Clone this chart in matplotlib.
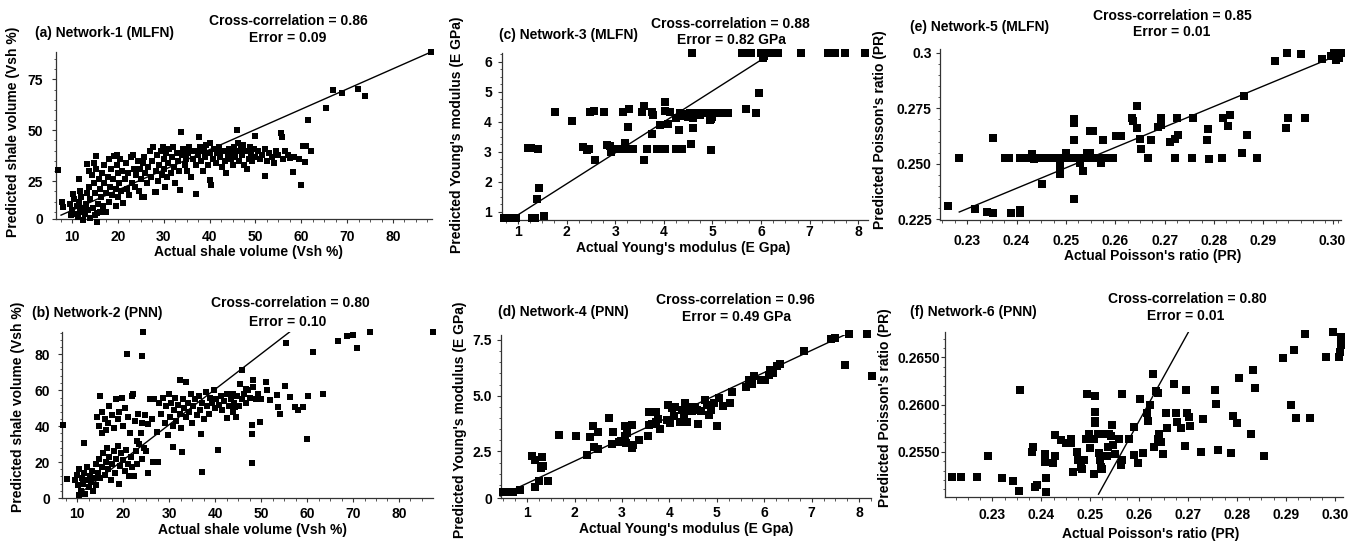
import numpy as np
import matplotlib
matplotlib.use("Agg")
import matplotlib.pyplot as plt
from matplotlib.ticker import MultipleLocator

plt.rcParams['font.family'] = ['Liberation Sans', 'DejaVu Sans']
plt.rcParams['font.weight'] = 'bold'
plt.rcParams['font.size'] = 10

# ================= data: (actual, predicted) =================
a_points = [
    (7.0, 30.7), (7.8, 14.9), (8.0, 12.5), (9.5, 14), (9.8, 8.5), (10, 11), (10.3, 18.5), (10.5, 16),
    (10.8, 9), (11, 13), (11.3, 7.5), (11.5, 15), (11.6, 26.3), (11.7, 20), (11.8, 10), (12, 17),
    (12.2, 12), (12.4, 6), (12.8, 9), (13, 14), (13.2, 19), (13.3, 33.5), (13.5, 11), (13.7, 22),
    (13.8, 30), (14, 7), (14, 16), (14.3, 28), (14.5, 12), (14.7, 24), (14.8, 34), (15, 8.5), (15, 19),
    (15.2, 31), (15.2, 37.5), (15.4, 5), (15.4, 9.2), (15.6, 14), (15.8, 26), (16, 10), (16, 21),
    (16.3, 17), (16.5, 29), (16.7, 13), (17, 24), (17, 33), (17.3, 19), (17.5, 10), (17.8, 27), (18, 15),
    (18, 36), (18.3, 22), (18.5, 31), (18.8, 18), (19, 26), (19.2, 37.5), (19.5, 13), (19.6, 21),
    (19.7, 37.7), (19.8, 33), (20, 29), (20, 17), (20.3, 24), (20.5, 36), (20.7, 20), (21, 30),
    (21.2, 14.5), (21.5, 26), (21.8, 34), (22, 21), (22.3, 29), (22.5, 18), (22.8, 37), (23, 24),
    (23.3, 38), (23.5, 31), (23.8, 22), (24, 28), (24.3, 35), (24.6, 20), (24.8, 31), (25, 26),
    (25.3, 17), (25.5, 34), (25.7, 17), (25.7, 37), (26, 29), (26.3, 24), (26.6, 32), (27, 40),
    (27.2, 27), (27.5, 35), (27.7, 41.8), (28, 19.5), (28.2, 30), (28.4, 19.8), (28.5, 38), (28.8, 25),
    (29, 33), (29.3, 40), (29.6, 28), (29.9, 41.8), (30, 36), (30, 31), (30.3, 22), (30.5, 39),
    (30.8, 27), (31, 34), (31.2, 41), (31.5, 29), (31.8, 37), (32, 41.8), (32.2, 32), (32.5, 24),
    (32.8, 39), (33, 35), (33.3, 30), (33.5, 20.9), (33.8, 49), (34, 38), (34.3, 41), (34.6, 33),
    (34.9, 36), (35, 30), (35.3, 39), (35.6, 42), (36, 27), (36.3, 36), (36.6, 40), (37, 33),
    (37.1, 18.6), (37.4, 38), (37.7, 46.7), (37.8, 41.8), (38, 41), (38.2, 35), (38.5, 30), (38.8, 40),
    (39, 37), (39.3, 43), (39.6, 33), (40, 39), (40.1, 25.5), (40.4, 22.9), (40, 44), (40.7, 36),
    (41, 41), (41.3, 34), (41.6, 39), (42, 42), (42.3, 37), (42.6, 32), (43, 40), (43.3, 35),
    (43.6, 29), (44, 38), (44.3, 41), (44.6, 36), (45, 39), (45, 33), (45.3, 42), (45.5, 37),
    (45.8, 40), (46, 50), (46.2, 44), (46.5, 35), (46.8, 41), (47, 38), (47.3, 43), (47.6, 33),
    (48, 40), (48.2, 31), (48.5, 36), (48.8, 42), (49, 39), (49.3, 35), (49.6, 41), (49.8, 47),
    (50, 37), (50.5, 40), (51, 36), (51.5, 38), (52, 41), (52.1, 27.5), (52.5, 35), (53, 39),
    (53.5, 37), (54.1, 34), (54.5, 40), (55, 38), (55.6, 48.5), (55.8, 46.5), (56.1, 36), (56.5, 40),
    (57, 38), (57.5, 36.5), (58.1, 29.5), (58.5, 37), (59.5, 36), (59.9, 23), (60.4, 42.3),
    (60.7, 34.5), (61, 42.5), (62.1, 40), (61.4, 55), (65.3, 61), (67, 70), (68.9, 68.5),
    (72.4, 70.4), (73.9, 66.8), (88.2, 88.4),
]
a_line = ([7.6, 88.2], [8.3, 88.4])

b_points = [
    (7.0, 40.6), (7.8, 10.4), (9.5, 10), (10, 13), (10.2, 7), (10.3, 1.5), (10.5, 16), (10.8, 4),
    (11, 11), (11.2, 8), (11.4, 30.4), (11.5, 14), (11.7, 2), (12, 10), (12.2, 17), (12.5, 6),
    (12.8, 12), (13, 9), (13.2, 15), (13.5, 4), (13.8, 11), (14, 19), (14.2, 7), (14.5, 14),
    (14.8, 22), (15, 11), (15.3, 17), (15.6, 25), (16, 13), (16.2, 20), (16.5, 28), (16.8, 16),
    (17, 23), (17.3, 10), (17.6, 19), (18, 26), (18.2, 14), (18.5, 22), (18.8, 29), (19, 8),
    (19.3, 18), (19.6, 25), (20, 21), (20.3, 15), (20.6, 27), (21, 19), (21.3, 12), (21.7, 23),
    (22, 17), (22.3, 12), (22.7, 26), (23, 19), (23.5, 30), (24, 22), (24.5, 28), (25, 26),
    (25.5, 14), (26.5, 20), (27.5, 20), (14.3, 45), (14.8, 40), (15, 57), (15.3, 36), (15.5, 48),
    (16, 44), (16.3, 38), (16.8, 42), (17, 51), (17.5, 46), (18, 39), (18.5, 55), (18.8, 44),
    (19.2, 48), (19.7, 56), (20, 40), (20.4, 50), (20.8, 80.4), (21, 45), (21.5, 36), (22, 57),
    (22.2, 58), (22.5, 43), (23, 32), (23.3, 47), (23.8, 36), (24.1, 78.9), (24.2, 42), (24.3, 92.4),
    (24.8, 46), (25.3, 41), (25.8, 55), (26.3, 44), (26.8, 55), (27.3, 37), (27.8, 53), (28.2, 47),
    (28.6, 56), (29, 42), (29.3, 51), (29.7, 35), (30, 58), (30.2, 45), (30.5, 53), (30.8, 40),
    (30.9, 28.5), (31, 49), (31.3, 56), (31.6, 43), (32, 52), (32.3, 47), (32.4, 65.6), (32.6, 39),
    (32.8, 25.7), (33, 55), (33.3, 50), (33.6, 45), (33.7, 64.6), (34, 53), (34.3, 48), (34.7, 58),
    (35, 42), (35.3, 51), (35.7, 55), (36, 46), (36.4, 57), (36.8, 49), (36.9, 35.9), (37.1, 14.6),
    (37.2, 53), (37.6, 44), (38, 59), (38.3, 51), (38.7, 47), (39, 56), (39.4, 53), (39.8, 60),
    (40, 50), (40.3, 55), (40.7, 26.7), (40.8, 52), (41.2, 57), (41.6, 49), (42, 54), (42.5, 44.3),
    (42.5, 58), (43, 51), (43.4, 55), (43.8, 48), (43.9, 58.1), (44.2, 53), (44.3, 50.7),
    (44.6, 45.2), (44.8, 57), (45.2, 51), (45.4, 63.7), (45.8, 71.1), (45.8, 55), (46.3, 58),
    (46.8, 60.9), (46.8, 53), (47.2, 60), (47.7, 56), (48, 35.9), (48, 19.3), (48.1, 40.6),
    (48.3, 65.6), (48.3, 62), (48.8, 55), (49.3, 58), (49.8, 42.4), (50, 55), (51.1, 64.6),
    (51.2, 60), (51.9, 54.4), (53.4, 57.2), (53.7, 50.7), (54.1, 47), (55.2, 62.2), (55.4, 86.3),
    (56.3, 56.3), (57.4, 50.7), (58, 49), (59.2, 50.7), (59.9, 32.6), (60.3, 56.7), (61.4, 81.3),
    (63.4, 58.1), (66.8, 87.4), (68.6, 90.2), (70.1, 90.9), (70.8, 83.5), (73.7, 92.4), (87.5, 92.4),
]
b_line = ([10.7, 56.3], [2.8, 92.7])

c_points = [
    (0.72, 0.79), (0.8, 0.79), (0.88, 0.79), (0.95, 0.79), (1.28, 0.79), (1.35, 0.79), (1.54, 0.87),
    (1.4, 1.42), (1.43, 1.81), (1.21, 3.12), (1.27, 3.12), (1.42, 3.1), (1.76, 4.32), (2.1, 4.03),
    (2.34, 3.18), (2.41, 3.07), (2.47, 3.1), (2.58, 2.73), (2.48, 4.34), (2.56, 4.38), (2.77, 4.32),
    (2.82, 3.23), (2.89, 3.2), (2.92, 3.01), (3.06, 3.1), (3.13, 3.1), (3.2, 3.29), (3.3, 3.1),
    (3.37, 3.1), (3.27, 3.84), (3.16, 4.34), (3.28, 4.43), (3.59, 2.73), (3.66, 3.1), (3.85, 3.1),
    (4.02, 3.1), (3.56, 4.34), (3.6, 4.53), (3.75, 4.32), (3.78, 4.23), (3.75, 3.6), (3.92, 3.9),
    (4.02, 4.66), (4.02, 4.37), (4.09, 3.92), (4.12, 4.32), (4.26, 4.12), (4.32, 3.73), (4.26, 3.1),
    (4.37, 3.1), (4.33, 4.29), (4.4, 4.2), (4.45, 4.25), (4.5, 4.15), (4.55, 3.27), (4.59, 3.81),
    (4.6, 4.12), (4.53, 4.29), (4.65, 4.27), (4.71, 4.29), (4.75, 4.22), (4.85, 4.3), (4.88, 4.29),
    (4.95, 4.25), (4.95, 4.05), (4.98, 4.1), (4.98, 3.07), (5.0, 4.18), (5.05, 4.29), (5.15, 4.29),
    (5.32, 4.31), (5.7, 4.42), (5.89, 4.31), (5.96, 4.98), (4.58, 6.29), (5.6, 6.29), (5.7, 6.29),
    (5.8, 6.29), (6.0, 6.29), (6.1, 6.29), (6.2, 6.29), (6.35, 6.29), (6.83, 6.29), (7.38, 6.29),
    (7.52, 6.29), (7.72, 6.29), (8.13, 6.29), (6.07, 6.2), (6.04, 6.12),
]
c_line = ([0.9, 6.05], [0.8, 6.12])

d_points = [
    (0.5, 0.66), (0.61, 0.66), (0.71, 0.66), (0.85, 0.78), (1.1, 2.31), (1.17, 2.13), (1.31, 2.23),
    (1.29, 1.75), (1.34, 1.83), (1.17, 0.9), (1.26, 1.16), (1.45, 1.16), (1.68, 3.25), (2.03, 3.17),
    (2.32, 3.13), (2.27, 2.32), (2.39, 3.66), (2.4, 2.69), (2.5, 3.35), (2.5, 2.62), (2.72, 3.99),
    (2.82, 3.35), (2.79, 2.84), (2.93, 2.92), (2.97, 2.95), (3.07, 3.62), (3.1, 3.32), (3.07, 3.17),
    (3.09, 2.87), (3.21, 3.69), (3.23, 2.8), (3.21, 2.65), (3.35, 3.02), (3.56, 4.25), (3.56, 3.69),
    (3.54, 3.2), (3.63, 3.74), (3.72, 4.25), (3.72, 3.84), (3.77, 3.96), (3.81, 3.5), (3.95, 3.92),
    (3.96, 4.59), (4.02, 3.77), (4.05, 4.44), (4.12, 4.51), (4.1, 4.07), (4.23, 3.8), (4.26, 4.36),
    (4.3, 4.11), (4.33, 4.66), (4.37, 3.8), (4.42, 4.48), (4.47, 4.33), (4.54, 4.51), (4.58, 4.36),
    (4.61, 3.71), (4.66, 4.29), (4.76, 4.81), (4.79, 4.59), (4.83, 4.11), (4.88, 4.36), (4.93, 4.66),
    (5.0, 3.66), (5.04, 4.88), (5.12, 4.54), (5.27, 4.66), (5.32, 5.16), (5.62, 5.38), (5.67, 5.71),
    (5.74, 5.53), (5.78, 5.86), (5.93, 5.71), (6.02, 5.71), (6.09, 5.93), (6.13, 6.16), (6.18, 6.01),
    (6.27, 6.31), (6.34, 6.43), (6.84, 7.02), (7.41, 7.53), (7.5, 7.57), (7.78, 7.77), (7.71, 6.38),
    (8.17, 7.77), (8.27, 5.86),
]
d_line = ([0.6, 7.77], [0.67, 7.8])

e_points = [
    (0.2262, 0.2309), (0.2284, 0.2525), (0.2315, 0.2294), (0.234, 0.2283), (0.2353, 0.2276),
    (0.2352, 0.2618), (0.2389, 0.2279), (0.2407, 0.2279), (0.2407, 0.2291), (0.2377, 0.2525),
    (0.2384, 0.2525), (0.2407, 0.2525), (0.2431, 0.2543), (0.2415, 0.2525), (0.2425, 0.2525),
    (0.2435, 0.2522), (0.2445, 0.2525), (0.2455, 0.2525), (0.2465, 0.2525), (0.2475, 0.2525),
    (0.2485, 0.2525), (0.2495, 0.2525), (0.2505, 0.2525), (0.2515, 0.2525), (0.2525, 0.2525),
    (0.2535, 0.2525), (0.2545, 0.2525), (0.2555, 0.2525), (0.2565, 0.2525), (0.2575, 0.2525),
    (0.2585, 0.2525), (0.2595, 0.2525), (0.2451, 0.2407), (0.2488, 0.2452), (0.2488, 0.2491),
    (0.25, 0.255), (0.2517, 0.2608), (0.2517, 0.2701), (0.2517, 0.2683), (0.2517, 0.2342),
    (0.2535, 0.2467), (0.2529, 0.2502), (0.2548, 0.2648), (0.2554, 0.2648), (0.2542, 0.2547),
    (0.2548, 0.2547), (0.2572, 0.2505), (0.2575, 0.2608), (0.2601, 0.2623), (0.2612, 0.2623),
    (0.2634, 0.2706), (0.2636, 0.2691), (0.2643, 0.2661), (0.2643, 0.2759), (0.265, 0.2611),
    (0.2652, 0.2565), (0.2666, 0.2525), (0.2673, 0.2608), (0.2693, 0.2706), (0.2693, 0.2676),
    (0.2687, 0.2665), (0.271, 0.26), (0.272, 0.2612), (0.2727, 0.263), (0.2725, 0.2706),
    (0.272, 0.2525), (0.2758, 0.2706), (0.2755, 0.2525), (0.2785, 0.2608), (0.2788, 0.2656),
    (0.279, 0.252), (0.2817, 0.2525), (0.2818, 0.2706), (0.2828, 0.2671), (0.2833, 0.2721),
    (0.2857, 0.2547), (0.286, 0.2804), (0.2867, 0.263), (0.2886, 0.2525), (0.2924, 0.2965),
    (0.2948, 0.3), (0.2975, 0.2995), (0.2946, 0.2663), (0.295, 0.2706), (0.2985, 0.2706),
    (0.3019, 0.2973), (0.3036, 0.2985), (0.3043, 0.3), (0.3049, 0.2992), (0.3053, 0.2977),
    (0.3056, 0.3), (0.3046, 0.297),
]
e_line = ([0.2284, 0.3056], [0.2282, 0.2995])

f_points = [
    (0.2217, 0.2523), (0.2235, 0.2523), (0.2269, 0.2523), (0.229, 0.2545), (0.232, 0.2522),
    (0.2342, 0.2519), (0.2355, 0.2508), (0.2356, 0.2616), (0.238, 0.255), (0.2382, 0.2555),
    (0.2387, 0.2513), (0.2391, 0.2515), (0.2409, 0.2522), (0.2409, 0.2507), (0.2408, 0.2548),
    (0.2408, 0.2539), (0.2424, 0.2538), (0.2427, 0.2546), (0.2428, 0.2568), (0.244, 0.2562),
    (0.245, 0.2559), (0.246, 0.2564), (0.246, 0.2559), (0.2464, 0.2529), (0.2472, 0.255),
    (0.2476, 0.2541), (0.2481, 0.2534), (0.2484, 0.2532), (0.2488, 0.2541), (0.2491, 0.2564),
    (0.2494, 0.2611), (0.2498, 0.2569), (0.2499, 0.2554), (0.2508, 0.2564), (0.2508, 0.2526),
    (0.251, 0.2609), (0.251, 0.2592), (0.251, 0.2583), (0.251, 0.258), (0.2515, 0.2569),
    (0.2517, 0.2549), (0.252, 0.2541), (0.2522, 0.2534), (0.2524, 0.2532), (0.2525, 0.2569),
    (0.2534, 0.2546), (0.2536, 0.2555), (0.2539, 0.2569), (0.2542, 0.2567), (0.2545, 0.2578),
    (0.2546, 0.2557), (0.2551, 0.2548), (0.2558, 0.2564), (0.2563, 0.2536), (0.2566, 0.2541),
    (0.2565, 0.2611), (0.258, 0.2564), (0.259, 0.2576), (0.259, 0.2547), (0.2597, 0.2538),
    (0.2602, 0.2606), (0.2607, 0.2549), (0.2616, 0.2591), (0.2622, 0.26), (0.2619, 0.2583),
    (0.2629, 0.2632), (0.2631, 0.2555), (0.2635, 0.2614), (0.2638, 0.2612), (0.2638, 0.2564),
    (0.264, 0.2569), (0.2645, 0.256), (0.2649, 0.2548), (0.2655, 0.2591), (0.2657, 0.2575),
    (0.2671, 0.2622), (0.2676, 0.2591), (0.2677, 0.2582), (0.2686, 0.2575), (0.2693, 0.2556),
    (0.2696, 0.2615), (0.2697, 0.2591), (0.2702, 0.2587), (0.2704, 0.2577), (0.2727, 0.255),
    (0.273, 0.2585), (0.2756, 0.2615), (0.2758, 0.2601), (0.2761, 0.2552), (0.2788, 0.2549),
    (0.2792, 0.2588), (0.2801, 0.258), (0.2805, 0.2628), (0.2828, 0.2569), (0.2833, 0.2637),
    (0.2838, 0.2618), (0.2855, 0.2545), (0.2894, 0.2649), (0.2911, 0.26), (0.2916, 0.2658),
    (0.292, 0.2586), (0.2939, 0.2675), (0.2949, 0.2586), (0.2983, 0.265), (0.2997, 0.2677),
    (0.3009, 0.265), (0.3011, 0.2656), (0.3012, 0.2663), (0.3013, 0.2672),
]
f_line = ([0.2517, 0.2702], [0.2505, 0.2678])

# tick positions / labels as printed on the original panels
a_yticks, a_ylabels = [6.4, 25, 50, 75], ['0', '25', '50', '75']
ab_xticks = [10, 20, 30, 40, 50, 60, 70, 80]
b_yticks = [0, 20, 40, 60, 80]
cd_xticks = [1, 2, 3, 4, 5, 6, 7, 8]
c_yticks = [1, 2, 3, 4, 5, 6]
d_yticks, d_ylabels = [0.41, 2.5, 5.0, 7.5], ['0', '2.5', '5.0', '7.5']
e_xticks = [0.23, 0.24, 0.25, 0.26, 0.27, 0.28, 0.29, 0.304]
ef_xlabels = ['0.23', '0.24', '0.25', '0.26', '0.27', '0.28', '0.29', '0.30']
e_yticks, e_ylabels = [0.225, 0.25, 0.275, 0.3], ['0.225', '0.250', '0.275', '0.3']
f_xticks = [0.23, 0.24, 0.25, 0.26, 0.27, 0.28, 0.29, 0.30]
f_yticks, f_ylabels = [0.255, 0.26, 0.265], ['0.2550', '0.2600', '0.2650']

W, H = 1363, 541
fig = plt.figure(figsize=(W / 100, H / 100), dpi=100)


def ftext(x, y, s, **kw):
    # position given in figure pixels from the top-left corner
    fig.text(x / W, 1 - y / H, s, fontsize=10, fontweight='bold', **kw)


def panel(box, pts, line, xlim, ylim, xt, xl, yt, yl, xminor, yminor, xpad, ypad, ms=5.0):
    left, top, right, bottom = box
    ax = fig.add_axes([left / W, 1 - bottom / H, (right - left) / W, (bottom - top) / H])
    pts = np.array(pts)
    ax.plot(pts[:, 0], pts[:, 1], 's', color='black', ms=ms, mew=0, clip_on=False, zorder=3)
    ax.plot(line[0], line[1], color='black', lw=1.0, zorder=4)
    ax.set_xlim(xlim)
    ax.set_ylim(ylim)
    ax.set_xticks(xt)
    ax.set_xticklabels(xl)
    ax.set_yticks(yt)
    ax.set_yticklabels(yl)
    ax.xaxis.set_minor_locator(MultipleLocator(xminor))
    ax.yaxis.set_minor_locator(MultipleLocator(yminor))
    for s in ['top', 'right']:
        ax.spines[s].set_visible(False)
    for s in ['left', 'bottom']:
        ax.spines[s].set_color('#333333')
        ax.spines[s].set_linewidth(0.9)
    ax.tick_params(which='major', direction='out', length=3, width=0.8, color='#333333', labelsize=10)
    ax.tick_params(which='minor', direction='out', length=1.8, width=0.7, color='#555555')
    ax.tick_params(axis='x', which='major', pad=xpad)
    ax.tick_params(axis='y', which='major', pad=ypad)
    ax.set_facecolor('none')
    return ax


# (a) Network-1
panel((56, 52, 432, 219), a_points, a_line, (6.5, 88.5), (6.4, 88.5),
      ab_xticks, [str(v) for v in ab_xticks], a_yticks, a_ylabels, 2.5, 5, 5.0, 6.5)
ftext(35, 33, '(a) Network-1 (MLFN)', ha='left', va='center')
ftext(288, 21, 'Cross-correlation = 0.86', ha='center', va='center')
ftext(288, 38, 'Error = 0.09', ha='center', va='center')
ftext(13, 132, 'Predicted shale volume (Vsh %)', rotation=90, ha='center', va='center')
ftext(248, 252, 'Actual shale volume (Vsh %)', ha='center', va='center')

# (b) Network-2
panel((62, 332, 433, 498), b_points, b_line, (6.7, 87.4), (0, 92.5),
      ab_xticks, [str(v) for v in ab_xticks], b_yticks, [str(v) for v in b_yticks], 2.5, 4, 3.6, 5.8)
ftext(32, 313, '(b) Network-2 (PNN)', ha='left', va='center')
ftext(290, 303, 'Cross-correlation = 0.80', ha='center', va='center')
ftext(288, 322, 'Error = 0.10', ha='center', va='center')
ftext(18, 407, 'Predicted shale volume (Vsh %)', rotation=90, ha='center', va='center')
ftext(252, 530, 'Actual shale volume (Vsh %)', ha='center', va='center')

# (c) Network-3
panel((502, 53, 868, 220), c_points, c_line, (0.67, 8.2), (0.73, 6.3),
      cd_xticks, [str(v) for v in cd_xticks], c_yticks, [str(v) for v in c_yticks], 0.25, 0.25, 0.5, 4.3,
      ms=5.2)
ftext(499, 35, '(c) Network-3 (MLFN)', ha='left', va='center')
ftext(730, 24, 'Cross-correlation = 0.88', ha='center', va='center')
ftext(731, 40, 'Error = 0.82 GPa', ha='center', va='center')
ftext(457, 135, "Predicted Young's modulus (E GPa)", rotation=90, ha='center', va='center')
ftext(683, 248, "Actual Young's modulus (E Gpa)", ha='center', va='center')

# (d) Network-4
panel((501, 335, 871, 498), d_points, d_line, (0.45, 8.25), (0.41, 7.72),
      cd_xticks, [str(v) for v in cd_xticks], d_yticks, d_ylabels, 0.25, 0.5, 2.9, 3.6, ms=5.2)
ftext(498, 312, '(d) Network-4 (PNN)', ha='left', va='center')
ftext(735, 300, 'Cross-correlation = 0.96', ha='center', va='center')
ftext(736, 317, 'Error = 0.49 GPa', ha='center', va='center')
ftext(460, 420, "Predicted Young's modulus (E GPa)", rotation=90, ha='center', va='center')
ftext(686, 529, "Actual Young's modulus (E Gpa)", ha='center', va='center')

# (e) Network-5
panel((940, 49, 1341, 220), e_points, e_line, (0.2245, 0.3057), (0.2246, 0.3018),
      e_xticks, ef_xlabels, e_yticks, e_ylabels, 0.0025, 0.005, 7.2, 2.9, ms=5.4)
ftext(910, 27, '(e) Network-5 (MLFN)', ha='left', va='center')
ftext(1172, 16, 'Cross-correlation = 0.85', ha='center', va='center')
ftext(1172, 32, 'Error = 0.01', ha='center', va='center')
ftext(880, 130, "Predicted Poisson's ratio (PR)", rotation=90, ha='center', va='center')
ftext(1153, 256, "Actual Poisson's ratio (PR)", ha='center', va='center')

# (f) Network-6
panel((945, 332, 1343, 497), f_points, f_line, (0.2203, 0.3017), (0.2502, 0.2677),
      f_xticks, ef_xlabels, f_yticks, f_ylabels, 0.0025, 0.001, 5.0, 0.5, ms=5.4)
ftext(910, 312, '(f) Network-6 (PNN)', ha='left', va='center')
ftext(1187, 299, 'Cross-correlation = 0.80', ha='center', va='center')
ftext(1186, 316, 'Error = 0.01', ha='center', va='center')
ftext(885, 408, "Predicted Poisson's ratio (PR)", rotation=90, ha='center', va='center')
ftext(1151, 534, "Actual Poisson's ratio (PR)", ha='center', va='center')

fig.savefig('out.png', dpi=100, facecolor='white')
